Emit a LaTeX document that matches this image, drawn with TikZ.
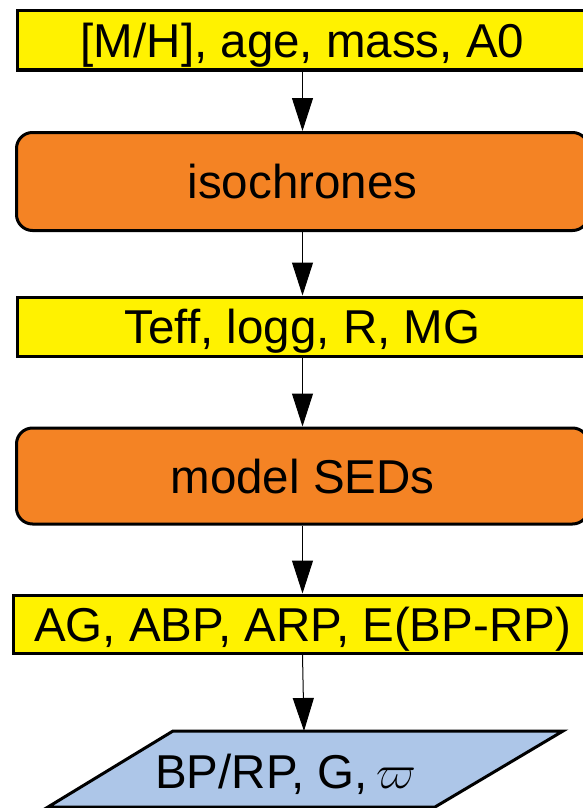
\RequirePackage{fix-cm}
\documentclass[tikz,border=0pt]{standalone}
\usepackage{fontspec}
\setmainfont{Liberation Sans}
\usetikzlibrary{arrows.meta}
\definecolor{boxyellow}{RGB}{255,242,0}
\definecolor{boxorange}{RGB}{244,131,36}
\definecolor{boxblue}{RGB}{173,198,232}
\tikzset{
  txt/.style={font=\fontsize{47.5}{52}\selectfont, text height=34pt, text depth=0pt, inner sep=0pt},
  ybox/.style={txt, draw=black, line width=3pt, fill=boxyellow, minimum width=571pt, minimum height=59pt},
  obox/.style={txt, draw=black, line width=3pt, fill=boxorange, rounded corners=16pt, minimum width=572pt, minimum height=98pt},
  arr/.style={line width=1pt, -{Triangle[width=21pt,length=33pt]}},
}
\begin{document}
\begin{tikzpicture}[x=1pt,y=-1pt]
\useasboundingbox (0,0) rectangle (583,808);
\clip (0,0) rectangle (583,808);
\node[ybox] (inp) at (302.5,40.5) {[M/H], age, mass, A0};
\node[obox] (iso) at (302.5,181.5) {isochrones};
\node[ybox] (par) at (302.5,326.5) {Teff, logg, R, MG};
\node[obox, minimum height=96pt] (sed) at (302.5,476) {model SEDs};
\node[ybox, minimum width=579pt, minimum height=58pt] (ext) at (302.5,624) {AG, ABP, ARP, E(BP-RP)};
\filldraw[fill=boxblue, draw=black, line width=3pt] (173,731) -- (563,731) -- (435,807) -- (48,807) -- cycle;
\coordinate (outtop) at (304,731);
\node[font=\fontsize{47.5}{52}\selectfont, inner sep=0pt, anchor=base] (out) at (285.5,788) {BP/RP, G,\,$\varpi$};
\draw[arr] (inp.south) -- (iso.north);
\draw[arr] (iso.south) -- (par.north);
\draw[arr] (par.south) -- (sed.north);
\draw[arr] (sed.south) -- (ext.north);
\draw[arr] (ext.south) -- (outtop);
\end{tikzpicture}
\end{document}
